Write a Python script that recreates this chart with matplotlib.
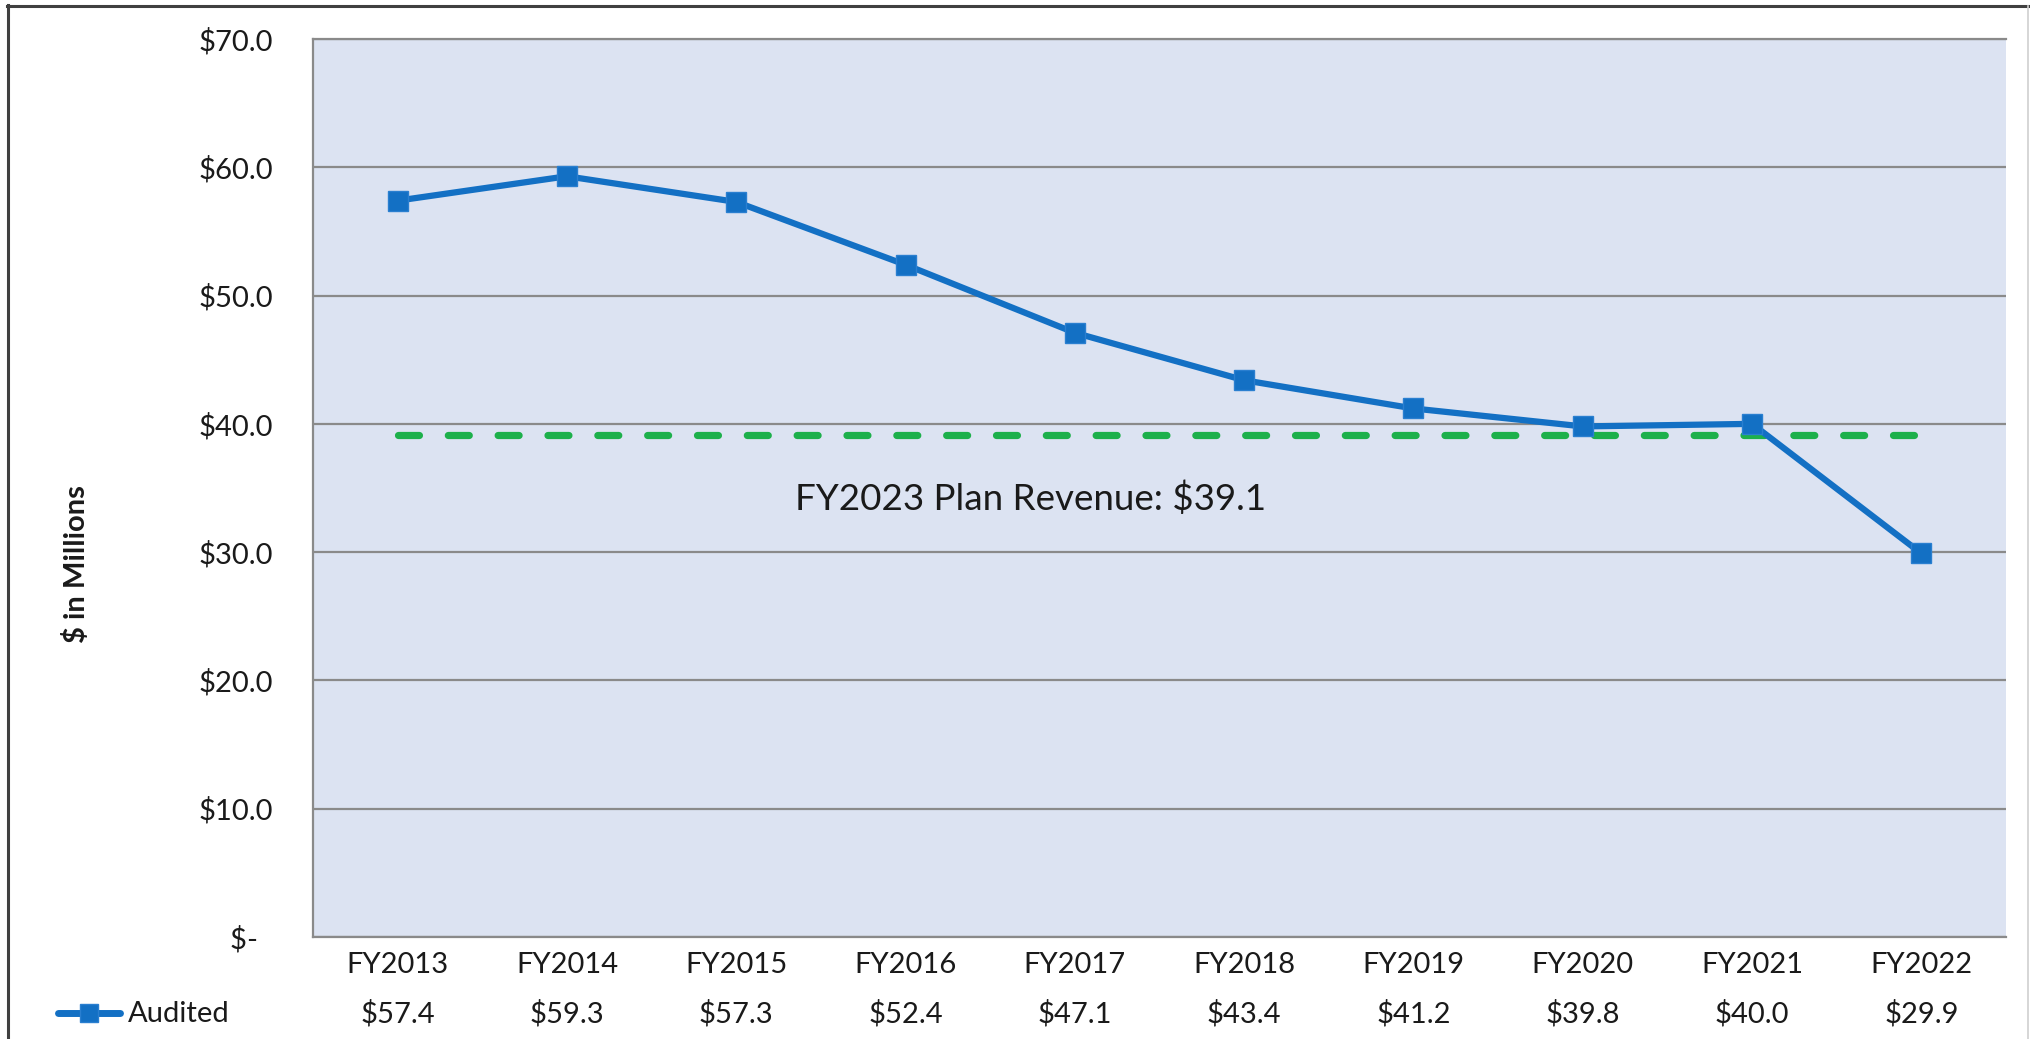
import matplotlib
matplotlib.use("Agg")
import matplotlib.pyplot as plt
from matplotlib.lines import Line2D
from matplotlib.transforms import blended_transform_factory

# ---- data ----
categories = ["FY2013", "FY2014", "FY2015", "FY2016", "FY2017",
              "FY2018", "FY2019", "FY2020", "FY2021", "FY2022"]
audited = [57.4, 59.3, 57.3, 52.4, 47.1, 43.4, 41.2, 39.8, 40.0, 29.9]
plan_value = 39.1
plan = [plan_value] * len(categories)
ytick_values = [0, 10, 20, 30, 40, 50, 60, 70]
ytick_labels = ["$-  ", "$10.0", "$20.0", "$30.0", "$40.0", "$50.0", "$60.0", "$70.0"]
table_labels = ["$%.1f" % v for v in audited]
series_name = "Audited"
annotation = "FY2023 Plan Revenue: $%.1f" % plan_value
ylabel = "$ in Millions"

plt.rcParams['font.family'] = ['Lato', 'DejaVu Sans']

W, H = 2030, 1039
DPI = 100
fig = plt.figure(figsize=(W / DPI, H / DPI), dpi=DPI)
fig.patch.set_facecolor("white")

def fx(px):
    return px / W

def fy(py):
    return 1 - py / H

left, right, top, bottom = 313, 2006, 39, 937
ax = fig.add_axes([fx(left), fy(bottom), fx(right) - fx(left), fy(top) - fy(bottom)])
ax.set_facecolor("#DCE3F2")

x = list(range(len(categories)))
BLUE = "#1370C4"
GREEN = "#1DB04B"
TXT = "#1a1a1a"
FS = 21

ax.plot(x, plan, color=GREEN, lw=5.2, dashes=(2.9, 4.0), dash_capstyle="round", zorder=3)
ax.plot(x, audited, color=BLUE, lw=4.5, marker="s", markersize=14,
        markerfacecolor=BLUE, markeredgecolor="#2A7FD0", markeredgewidth=1, zorder=4)

ax.set_xlim(-0.5, len(categories) - 0.5)
ax.set_ylim(0, 70)
ax.set_yticks(ytick_values)
ax.set_yticklabels(ytick_labels)
ax.yaxis.grid(True, color="#8A8A8A", lw=1.6)
ax.set_axisbelow(True)
ax.tick_params(axis="y", length=0, pad=29, labelsize=FS, labelcolor=TXT)
ax.set_xticks(x)
ax.set_xticklabels(categories)
ax.tick_params(axis="x", length=0, pad=11, labelsize=FS, labelcolor=TXT)
for s in ["left", "bottom", "top"]:
    ax.spines[s].set_color("#8A8A8A")
    ax.spines[s].set_linewidth(1.6)
ax.spines["right"].set_visible(False)

# annotation
ax.text(3.74, 34.2, annotation, ha="center", va="center", fontsize=26.5, color=TXT, zorder=5)

# data table row
tr = blended_transform_factory(ax.transData, fig.transFigure)
for xi, lab in zip(x, table_labels):
    ax.text(xi, fy(1014), lab, transform=tr, ha="center", va="center",
            fontsize=FS, color=TXT, clip_on=False)

# legend key in data table
fig.add_artist(Line2D([fx(58), fx(120)], [fy(1013), fy(1013)], color=BLUE, lw=5,
                      solid_capstyle="round", transform=fig.transFigure))
fig.add_artist(Line2D([fx(89)], [fy(1013)], marker="s", markersize=13, color=BLUE,
                      markeredgecolor="#2A7FD0", transform=fig.transFigure, lw=0))
fig.text(fx(128), fy(1014), series_name, ha="left", va="center", fontsize=FS, color=TXT)

# y label
fig.text(fx(77), fy(564), ylabel, rotation=90, ha="center", va="center",
         fontsize=FS, fontweight="bold", color=TXT)

# outer frame
fig.add_artist(Line2D([fx(8), fx(8)], [fy(5), fy(1045)], color="#404040", lw=2.2,
                      transform=fig.transFigure))
fig.add_artist(Line2D([fx(7), fx(2028)], [fy(6), fy(6)], color="#404040", lw=2.2,
                      transform=fig.transFigure))
fig.add_artist(Line2D([fx(2028), fx(2028)], [fy(6), fy(1045)], color="#D0D0D0", lw=1.2,
                      transform=fig.transFigure))

fig.savefig("out.png", dpi=DPI)
